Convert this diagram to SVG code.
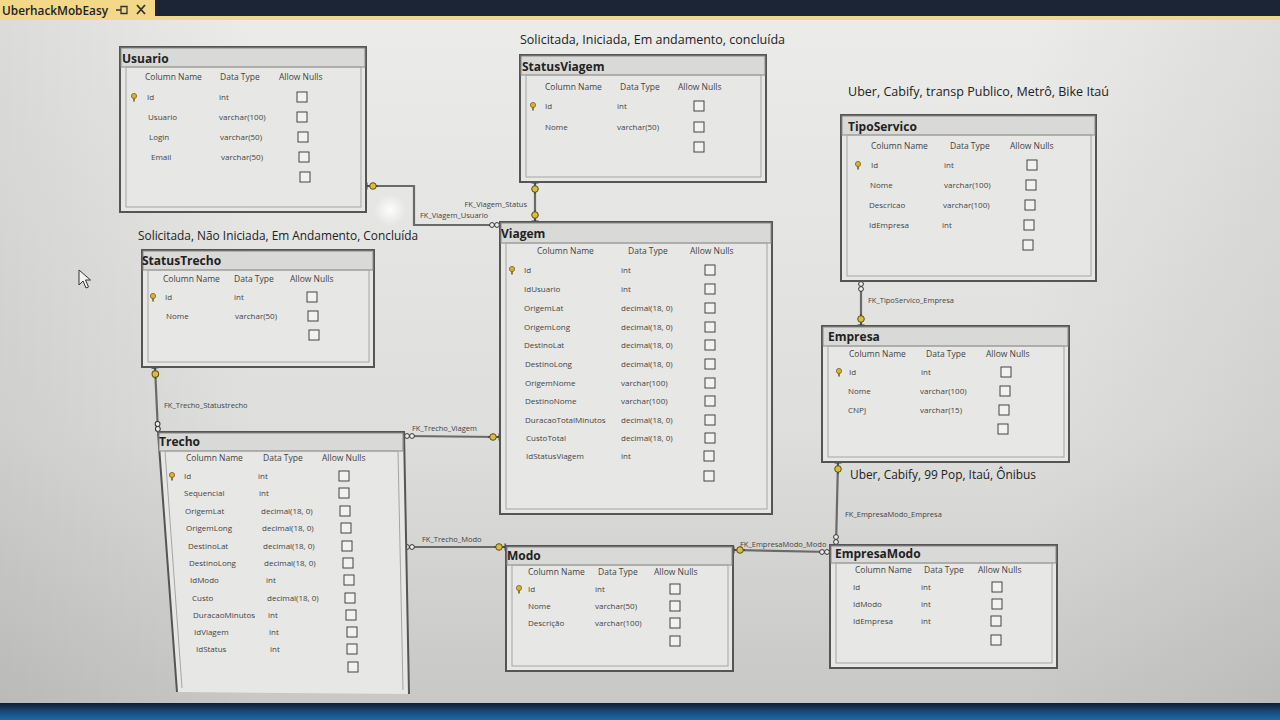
<svg xmlns="http://www.w3.org/2000/svg" xmlns:xlink="http://www.w3.org/1999/xlink" width="1280" height="720" viewBox="0 0 1280 720">
<style>
text{font-family:"Open Sans","Noto Sans","DejaVu Sans",sans-serif}
.tb{fill:#e7e7e5;stroke:#555;stroke-width:2}
.tt{fill:#d9d9d7;stroke:#8a8a8a;stroke-width:1}
.in{fill:none;stroke:#a5a5a5;stroke-width:1}
.tn{font-size:12px;font-weight:700;fill:#222}
.h{font-size:8.5px;fill:#444}
.c{font-size:8px;fill:#444}
.fk{font-size:7.5px;fill:#444}
.note{font-size:13px;fill:#222}
.ln{fill:none;stroke:#6a6a6a;stroke-width:2.2}
</style>
<defs>
<linearGradient id="bg" x1="0" y1="0" x2="0" y2="1">
<stop offset="0" stop-color="#ececea"/><stop offset="0.6" stop-color="#dededc"/><stop offset="1" stop-color="#c6c6c5"/>
</linearGradient>
<linearGradient id="bgx" x1="0" y1="0" x2="1" y2="0">
<stop offset="0" stop-color="#000" stop-opacity="0.07"/><stop offset="0.2" stop-color="#000" stop-opacity="0"/><stop offset="0.8" stop-color="#000" stop-opacity="0"/><stop offset="1" stop-color="#000" stop-opacity="0.06"/>
</linearGradient>
<linearGradient id="bot" x1="0" y1="0" x2="0" y2="1">
<stop offset="0" stop-color="#0f1d30"/><stop offset="0.5" stop-color="#174a78"/><stop offset="1" stop-color="#1c6aa6"/>
</linearGradient>
<radialGradient id="glare"><stop offset="0" stop-color="#fff" stop-opacity="0.9"/><stop offset="1" stop-color="#fff" stop-opacity="0"/></radialGradient>
<rect id="cb" width="10" height="10" fill="#f2f2f2" stroke="#444" stroke-width="1"/>
<g id="pk"><circle cx="3" cy="3" r="2.6" fill="#d6b13a" stroke="#6b5514" stroke-width="0.7"/><rect x="2.1" y="5" width="1.8" height="3.5" fill="#8a7020"/></g>
<g id="ck"><path d="M0.8,-3.5V3.5M0,0H12" stroke="#444" stroke-width="1.4"/><circle cx="7" cy="0" r="3.3" fill="#d9bd3f" stroke="#5e4d10" stroke-width="1"/></g>
<g id="ci"><circle cx="3" cy="0" r="2.4" fill="#eee" stroke="#333" stroke-width="1"/><circle cx="8" cy="0" r="2.4" fill="#eee" stroke="#333" stroke-width="1"/></g>
</defs>
<rect width="1280" height="720" fill="url(#bg)"/>
<rect width="1280" height="720" fill="url(#bgx)"/>
<circle cx="390" cy="210" r="16" fill="url(#glare)"/>
<rect x="0" y="0" width="1280" height="17" fill="#1c2536"/>
<rect x="0" y="16" width="1280" height="4" fill="#eed88f"/>
<rect x="0" y="0" width="155" height="20" fill="#f3d888"/>
<text x="2" y="15" font-size="13" font-weight="600" fill="#222" textLength="106" lengthAdjust="spacingAndGlyphs">UberhackMobEasy</text>
<path d="M116,10H121M121,6.5H127V13.5H121Z" fill="none" stroke="#333" stroke-width="1.3"/>
<path d="M137,5L145,14M145,5L137,14" stroke="#333" stroke-width="1.8"/>
<rect x="0" y="703" width="1280" height="17" fill="url(#bot)"/>
<path d="M79,270V285L83,281L86,288L88.5,287L85.5,280H90.5Z" fill="#f4f4f4" stroke="#333" stroke-width="1"/>

<text class="note" x="520" y="44" textLength="265" lengthAdjust="spacingAndGlyphs">Solicitada, Iniciada, Em andamento, concluída</text>
<text class="note" x="848" y="96" textLength="261" lengthAdjust="spacingAndGlyphs">Uber, Cabify, transp Publico, Metrô, Bike Itaú</text>
<text class="note" x="138" y="240" textLength="280" lengthAdjust="spacingAndGlyphs">Solicitada, Não Iniciada, Em Andamento, Concluída</text>
<text class="note" x="850" y="479" textLength="186" lengthAdjust="spacingAndGlyphs">Uber, Cabify, 99 Pop, Itaú, Ônibus</text>

<g id="connectors">
<path class="ln" d="M366,186H414V225H500"/>
<path class="ln" d="M535,182V222"/>
<path class="ln" d="M861,281V326"/>
<path class="ln" d="M155,367L158,432"/>
<path class="ln" d="M404,436L500,437"/>
<path class="ln" d="M404,547H506"/>
<path class="ln" d="M733,550L830,552"/>
<path class="ln" d="M838,462L836,545"/>
<use href="#ck" transform="translate(366,186)"/>
<use href="#ci" transform="translate(500,225) rotate(180)"/>
<use href="#ck" transform="translate(535,182) rotate(90)"/>
<use href="#ck" transform="translate(535,222) rotate(-90)"/>
<use href="#ci" transform="translate(861,281) rotate(90)"/>
<use href="#ck" transform="translate(861,326) rotate(-90)"/>
<use href="#ck" transform="translate(155,367) rotate(87)"/>
<use href="#ci" transform="translate(158,432) rotate(-93)"/>
<use href="#ci" transform="translate(404,436)"/>
<use href="#ck" transform="translate(500,437) rotate(180)"/>
<use href="#ci" transform="translate(404,547)"/>
<use href="#ck" transform="translate(506,547) rotate(180)"/>
<use href="#ck" transform="translate(733,550)"/>
<use href="#ci" transform="translate(830,552) rotate(180)"/>
<use href="#ck" transform="translate(838,462) rotate(90)"/>
<use href="#ci" transform="translate(836,545) rotate(-90)"/>
<text class="fk" x="527" y="207" text-anchor="end">FK_Viagem_Status</text>
<text class="fk" x="420" y="218">FK_Viagem_Usuario</text>
<text class="fk" x="868" y="303">FK_TipoServico_Empresa</text>
<text class="fk" x="164" y="408">FK_Trecho_Statustrecho</text>
<text class="fk" x="412" y="431">FK_Trecho_Viagem</text>
<text class="fk" x="422" y="542">FK_Trecho_Modo</text>
<text class="fk" x="740" y="547">FK_EmpresaModo_Modo</text>
<text class="fk" x="845" y="517">FK_EmpresaModo_Empresa</text>
</g>

<g id="usuario">
<rect class="tb" x="120" y="47" width="246" height="165"/>
<rect class="tt" x="121" y="48" width="244" height="19"/>
<text class="tn" x="122" y="63">Usuario</text>
<rect class="in" x="126" y="67" width="235" height="140"/>
<text class="h" x="145" y="80">Column Name</text><text class="h" x="220" y="80">Data Type</text><text class="h" x="279" y="80">Allow Nulls</text>
<use href="#pk" x="131" y="93"/>
<text class="c" x="147" y="100">Id</text><text class="c" x="219" y="100">int</text><use href="#cb" x="297" y="92"/>
<text class="c" x="148" y="120">Usuario</text><text class="c" x="219" y="120">varchar(100)</text><use href="#cb" x="297" y="112"/>
<text class="c" x="149" y="140">Login</text><text class="c" x="220" y="140">varchar(50)</text><use href="#cb" x="298" y="132"/>
<text class="c" x="151" y="160">Email</text><text class="c" x="221" y="160">varchar(50)</text><use href="#cb" x="299" y="152"/>
<use href="#cb" x="300" y="172"/>
</g>

<g id="statusviagem">
<rect class="tb" x="520" y="55" width="246" height="127"/>
<rect class="tt" x="521" y="56" width="244" height="19"/>
<text class="tn" x="522" y="71">StatusViagem</text>
<rect class="in" x="526" y="75" width="235" height="102"/>
<text class="h" x="545" y="90">Column Name</text><text class="h" x="620" y="90">Data Type</text><text class="h" x="678" y="90">Allow Nulls</text>
<use href="#pk" x="530" y="102"/>
<text class="c" x="545" y="109">Id</text><text class="c" x="617" y="109">int</text><use href="#cb" x="694" y="101"/>
<text class="c" x="545" y="130">Nome</text><text class="c" x="617" y="130">varchar(50)</text><use href="#cb" x="694" y="122"/>
<use href="#cb" x="694" y="142"/>
</g>

<g id="tiposervico">
<rect class="tb" x="841" y="115" width="255" height="166"/>
<rect class="tt" x="842" y="116" width="253" height="19"/>
<text class="tn" x="848" y="131">TipoServico</text>
<rect class="in" x="847" y="135" width="244" height="141"/>
<text class="h" x="871" y="149">Column Name</text><text class="h" x="950" y="149">Data Type</text><text class="h" x="1010" y="149">Allow Nulls</text>
<use href="#pk" x="855" y="161"/>
<text class="c" x="871" y="168">Id</text><text class="c" x="944" y="168">int</text><use href="#cb" x="1027" y="160"/>
<text class="c" x="870" y="188">Nome</text><text class="c" x="944" y="188">varchar(100)</text><use href="#cb" x="1026" y="180"/>
<text class="c" x="869" y="208">Descricao</text><text class="c" x="943" y="208">varchar(100)</text><use href="#cb" x="1025" y="200"/>
<text class="c" x="869" y="228">IdEmpresa</text><text class="c" x="942" y="228">int</text><use href="#cb" x="1024" y="220"/>
<use href="#cb" x="1023" y="240"/>
</g>

<g id="statustrecho">
<rect class="tb" x="142" y="250" width="232" height="117"/>
<rect class="tt" x="143" y="251" width="230" height="19"/>
<text class="tn" x="142" y="265">StatusTrecho</text>
<rect class="in" x="148" y="270" width="221" height="92"/>
<text class="h" x="163" y="282">Column Name</text><text class="h" x="234" y="282">Data Type</text><text class="h" x="290" y="282">Allow Nulls</text>
<use href="#pk" x="150" y="293"/>
<text class="c" x="165" y="300">Id</text><text class="c" x="234" y="300">int</text><use href="#cb" x="307" y="292"/>
<text class="c" x="166" y="319">Nome</text><text class="c" x="235" y="319">varchar(50)</text><use href="#cb" x="308" y="311"/>
<use href="#cb" x="309" y="330"/>
</g>

<g id="viagem">
<rect class="tb" x="500" y="222" width="272" height="292"/>
<rect class="tt" x="501" y="223" width="270" height="20"/>
<text class="tn" x="501" y="238">Viagem</text>
<rect class="in" x="506" y="243" width="261" height="266"/>
<text class="h" x="537" y="254">Column Name</text><text class="h" x="628" y="254">Data Type</text><text class="h" x="690" y="254">Allow Nulls</text>
<use href="#pk" x="509" y="266"/>
<text class="c" x="524" y="273">Id</text><text class="c" x="621" y="273">int</text><use href="#cb" x="705" y="265"/>
<text class="c" x="524" y="292">IdUsuario</text><text class="c" x="621" y="292">int</text><use href="#cb" x="705" y="284"/>
<text class="c" x="524" y="311">OrigemLat</text><text class="c" x="621" y="311">decimal(18, 0)</text><use href="#cb" x="705" y="303"/>
<text class="c" x="524" y="330">OrigemLong</text><text class="c" x="621" y="330">decimal(18, 0)</text><use href="#cb" x="705" y="322"/>
<text class="c" x="524" y="348">DestinoLat</text><text class="c" x="621" y="348">decimal(18, 0)</text><use href="#cb" x="705" y="340"/>
<text class="c" x="525" y="367">DestinoLong</text><text class="c" x="621" y="367">decimal(18, 0)</text><use href="#cb" x="705" y="359"/>
<text class="c" x="525" y="386">OrigemNome</text><text class="c" x="621" y="386">varchar(100)</text><use href="#cb" x="705" y="378"/>
<text class="c" x="525" y="404">DestinoNome</text><text class="c" x="621" y="404">varchar(100)</text><use href="#cb" x="705" y="396"/>
<text class="c" x="525" y="423">DuracaoTotalMinutos</text><text class="c" x="621" y="423">decimal(18, 0)</text><use href="#cb" x="705" y="415"/>
<text class="c" x="526" y="441">CustoTotal</text><text class="c" x="621" y="441">decimal(18, 0)</text><use href="#cb" x="705" y="433"/>
<text class="c" x="526" y="459">IdStatusViagem</text><text class="c" x="621" y="459">int</text><use href="#cb" x="704" y="451"/>
<use href="#cb" x="704" y="471"/>
</g>

<g id="empresa">
<rect class="tb" x="822" y="326" width="247" height="136"/>
<rect class="tt" x="823" y="327" width="245" height="19"/>
<text class="tn" x="828" y="341">Empresa</text>
<rect class="in" x="828" y="346" width="236" height="111"/>
<text class="h" x="849" y="357">Column Name</text><text class="h" x="926" y="357">Data Type</text><text class="h" x="986" y="357">Allow Nulls</text>
<use href="#pk" x="836" y="368"/>
<text class="c" x="849" y="375">Id</text><text class="c" x="921" y="375">int</text><use href="#cb" x="1001" y="367"/>
<text class="c" x="848" y="394">Nome</text><text class="c" x="920" y="394">varchar(100)</text><use href="#cb" x="1000" y="386"/>
<text class="c" x="848" y="413">CNPJ</text><text class="c" x="920" y="413">varchar(15)</text><use href="#cb" x="999" y="405"/>
<use href="#cb" x="998" y="424"/>
</g>

<g id="trecho">
<path class="tb" d="M177,692L158,432H404L409,694"/>
<rect class="tt" x="159" y="433" width="244" height="18"/>
<text class="tn" x="159" y="446">Trecho</text>
<path class="in" d="M182,688L165,451H398L403,690"/>
<text class="h" x="186" y="461">Column Name</text><text class="h" x="263" y="461">Data Type</text><text class="h" x="322" y="461">Allow Nulls</text>
<use href="#pk" x="169" y="472"/>
<text class="c" x="184" y="479">Id</text><text class="c" x="258" y="479">int</text><use href="#cb" x="339" y="471"/>
<text class="c" x="184" y="496">Sequencial</text><text class="c" x="259" y="496">int</text><use href="#cb" x="339" y="488"/>
<text class="c" x="185" y="514">OrigemLat</text><text class="c" x="261" y="514">decimal(18, 0)</text><use href="#cb" x="340" y="506"/>
<text class="c" x="186" y="531">OrigemLong</text><text class="c" x="262" y="531">decimal(18, 0)</text><use href="#cb" x="341" y="523"/>
<text class="c" x="188" y="549">DestinoLat</text><text class="c" x="263" y="549">decimal(18, 0)</text><use href="#cb" x="342" y="541"/>
<text class="c" x="189" y="566">DestinoLong</text><text class="c" x="264" y="566">decimal(18, 0)</text><use href="#cb" x="343" y="558"/>
<text class="c" x="190" y="583">IdModo</text><text class="c" x="266" y="583">int</text><use href="#cb" x="344" y="575"/>
<text class="c" x="192" y="601">Custo</text><text class="c" x="267" y="601">decimal(18, 0)</text><use href="#cb" x="345" y="593"/>
<text class="c" x="193" y="618">DuracaoMinutos</text><text class="c" x="268" y="618">int</text><use href="#cb" x="346" y="610"/>
<text class="c" x="194" y="635">IdViagem</text><text class="c" x="269" y="635">int</text><use href="#cb" x="347" y="627"/>
<text class="c" x="196" y="652">IdStatus</text><text class="c" x="270" y="652">int</text><use href="#cb" x="347" y="644"/>
<use href="#cb" x="348" y="662"/>
</g>

<g id="modo">
<rect class="tb" x="506" y="546" width="227" height="125"/>
<rect class="tt" x="507" y="547" width="225" height="18"/>
<text class="tn" x="507" y="560">Modo</text>
<rect class="in" x="512" y="565" width="216" height="101"/>
<text class="h" x="528" y="575">Column Name</text><text class="h" x="598" y="575">Data Type</text><text class="h" x="654" y="575">Allow Nulls</text>
<use href="#pk" x="516" y="585"/>
<text class="c" x="528" y="592">Id</text><text class="c" x="595" y="592">int</text><use href="#cb" x="670" y="584"/>
<text class="c" x="528" y="609">Nome</text><text class="c" x="595" y="609">varchar(50)</text><use href="#cb" x="670" y="601"/>
<text class="c" x="528" y="626">Descrição</text><text class="c" x="595" y="626">varchar(100)</text><use href="#cb" x="670" y="618"/>
<use href="#cb" x="670" y="636"/>
</g>

<g id="empresamodo">
<rect class="tb" x="830" y="545" width="227" height="123"/>
<rect class="tt" x="831" y="546" width="225" height="17"/>
<text class="tn" x="835" y="558">EmpresaModo</text>
<rect class="in" x="836" y="563" width="216" height="100"/>
<text class="h" x="855" y="573">Column Name</text><text class="h" x="924" y="573">Data Type</text><text class="h" x="978" y="573">Allow Nulls</text>
<text class="c" x="853" y="590">Id</text><text class="c" x="921" y="590">int</text><use href="#cb" x="992" y="582"/>
<text class="c" x="853" y="607">IdModo</text><text class="c" x="921" y="607">int</text><use href="#cb" x="992" y="599"/>
<text class="c" x="853" y="624">IdEmpresa</text><text class="c" x="921" y="624">int</text><use href="#cb" x="991" y="616"/>
<use href="#cb" x="991" y="635"/>
</g>
</svg>
